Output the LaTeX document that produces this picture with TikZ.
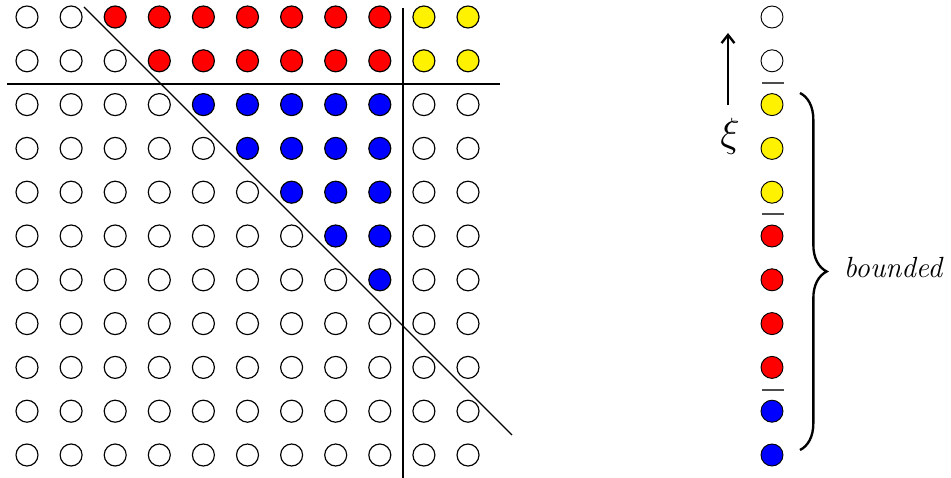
\documentclass[tikz,border=0pt]{standalone}
\usepackage{amsmath}
\usetikzlibrary{decorations.pathreplacing,arrows.meta}
\tikzset{
  site/.style={circle, draw, line width=1pt, minimum size=0.66cm, inner sep=0pt},
  bar/.style={draw=black!70, line width=0.9pt},
  cut/.style={line width=1pt},
}

\begin{document}
\begin{tikzpicture}[x=0.03cm, y=-0.03cm]
    \useasboundingbox (0,0) rectangle (951,478);

    % Grid of sites
    \foreach \r in {0,...,10}{
      \foreach \c in {0,...,10}{
        \def\fillc{white}
        \ifnum\c>8
          \ifnum\r<2 \def\fillc{yellow}\fi
        \else
          \ifnum\numexpr\c-\r\relax>1
            \ifnum\r<2 \def\fillc{red}\else\def\fillc{blue}\fi
          \fi
        \fi
        \node[site, fill=\fillc] (g-\r-\c) at ({27+44.1*\c}, {17+43.8*\r}) {};
      }
    }

    % Cuts
    \draw[cut] (7,84) -- (500,84);
    \draw[cut] (403,8) -- (403,478);
    \draw[cut] (84,7) -- (512,435);

    % Column
    \foreach \k/\col in {0/white, 1/white, 2/yellow, 3/yellow, 4/yellow,
                         5/red, 6/red, 7/red, 8/red, 9/blue, 10/blue}
      \node[site, line width=0.8pt, fill=\col] (c-\k) at (772, {17+43.8*\k}) {};
    \foreach \y in {83, 214, 390} \draw[bar] (762,\y) -- (784,\y);

    % Arrow and brace
    \coordinate (xitail) at (728,105);
    \coordinate (xihead) at (728,33);
    \draw[-{Straight Barb[length=7pt,width=11pt]}, line width=2pt] (xitail) -- (xihead);
    \node[scale=1.4] (xi) at (730,136) {\Huge $\xi$};
    \draw[decorate, decoration={brace, amplitude=0.8cm}, line width=2pt]
      (800,93) -- (800,450);
    \node (bounded) at (893,268) {\Huge\itshape bounded};
\end{tikzpicture}
\end{document}
